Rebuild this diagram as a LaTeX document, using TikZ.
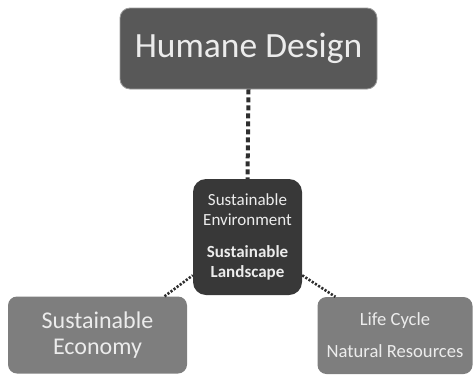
\documentclass[tikz,border=0pt]{standalone}
\usepackage{fontspec}
\setmainfont{Carlito}
\usetikzlibrary{calc}
\definecolor{topfill}{HTML}{585858}
\definecolor{hubfill}{HTML}{383838}
\definecolor{leaffill}{HTML}{7E7E7E}
\definecolor{boxtext}{HTML}{ECECEC}
\definecolor{linkcol}{HTML}{2E2E2E}
\begin{document}
\begin{tikzpicture}[x=1pt,y=-1pt,
  box/.style={rectangle, text=boxtext, align=center, inner sep=0pt},
  topbox/.style={box, fill=topfill, draw=topfill!60!white, line width=0.8pt,
    rounded corners=10pt, minimum width=257pt, minimum height=81pt},
  hubbox/.style={box, fill=hubfill, rounded corners=13pt,
    minimum width=109pt, minimum height=116pt},
  leafbox/.style={box, fill=leaffill, rounded corners=9pt, minimum height=77pt},
  mainlink/.style={linkcol, line width=4pt, dash pattern=on 5pt off 3pt},
  sidelink/.style={linkcol, line width=2.6pt, dash pattern=on 2.2pt off 1.6pt}]
  \useasboundingbox (0,0) rectangle (473,375);

  \node[topbox, font=\fontsize{35.5}{40}\selectfont] (top) at (248.5,48.5)
    {Humane Design};

  \node[hubbox, font=\fontsize{17}{20}\selectfont] (hub) at (247.5,237)
    {Sustainable\\Environment\\[12pt]
     \textbf{Sustainable}\\\textbf{Landscape}};

  \node[leafbox, minimum width=179pt, font=\fontsize{24}{26}\selectfont] (econ) at (97.5,335)
    {Sustainable\\Economy};

  \node[leafbox, minimum width=155pt, font=\fontsize{18.6}{32}\selectfont] (life) at (395,335.5)
    {Life Cycle\\Natural Resources};

  \draw[mainlink] (top.south) -- (hub.north);
  \draw[sidelink] (econ.30) -- (hub.215.6);
  \draw[sidelink] (hub.-35) -- (life.147.6);
\end{tikzpicture}
\end{document}
